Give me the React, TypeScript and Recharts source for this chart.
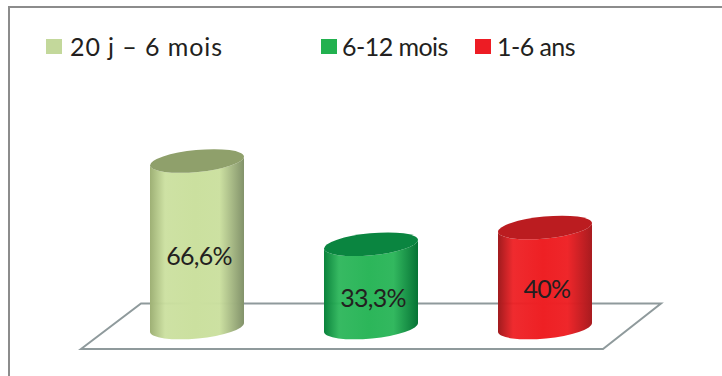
import { Bar, BarChart, LabelList, Legend, XAxis, YAxis } from "recharts";

const categories = ["20 j – 6 mois", "6-12 mois", "1-6 ans"];
const percentages = [66.6, 33.3, 40];

const data = categories.map((name, i) => ({ name, value: percentages[i] }));

const FONT = "Lato, 'Open Sans', sans-serif";
const INK = "#231f20";

const palette = [
  { swatch: "#c3d89b", edgeL: "#9eb075", mid: "#cbe09f", edgeR: "#82926a", top: "#8fa06b" },
  { swatch: "#22b14f", edgeL: "#0b823c", mid: "#2cb65a", edgeR: "#067335", top: "#0a8540" },
  { swatch: "#ed1c24", edgeL: "#a01b1e", mid: "#ee2024", edgeR: "#a81b1f", top: "#bb1c20" },
];

const legendLayout = [
  { box: 46, text: 70 },
  { box: 321, text: 342 },
  { box: 475, text: 497 },
];

function Cylinder({ x, y, width, height, index }: any) {
  const c = palette[index];
  const rx = width / 2 + 0.2;
  const ry = 11;
  const tilt = 4.5;
  const right = x + width;
  const bottom = y + height;
  const rot = -5.5;
  const body =
    `M${x} ${y + tilt} L${x} ${bottom + tilt} ` +
    `A${rx} ${ry} ${rot} 0 0 ${right} ${bottom - tilt} ` +
    `L${right} ${y - tilt} ` +
    `A${rx} ${ry} ${rot} 0 1 ${x} ${y + tilt} Z`;
  const cap =
    `M${x} ${y + tilt} A${rx} ${ry} ${rot} 0 1 ${right} ${y - tilt} ` +
    `A${rx} ${ry} ${rot} 0 1 ${x} ${y + tilt} Z`;
  return (
    <g>
      <path d={body} fill={`url(#cyl${index})`} />
      <path d={cap} fill={c.top} />
    </g>
  );
}

function LegendRow() {
  return (
    <div style={{ position: "absolute", left: 0, top: 0, width: 0, height: 0 }}>
      {categories.map((name, i) => (
        <div key={name}>
          <span
            style={{
              position: "absolute",
              left: legendLayout[i].box,
              top: 39,
              width: 16,
              height: 15,
              background: palette[i].swatch,
            }}
          />
          <span
            style={{
              position: "absolute",
              left: legendLayout[i].text,
              top: 31,
              fontFamily: FONT,
              fontSize: 25,
              lineHeight: "30px",
              color: INK,
              whiteSpace: "pre",
              letterSpacing: i === 0 ? 0.9 : -0.55,
            }}
          >
            {name}
          </span>
        </div>
      ))}
    </div>
  );
}

export default function App() {
  return (
    <div
      style={{
        position: "absolute",
        left: 0,
        top: 0,
        width: 722,
        height: 376,
        overflow: "hidden",
        background: "#fff",
      }}
    >
      <div
        style={{
          position: "absolute",
          left: 8,
          top: 6,
          width: 714,
          height: 370,
          borderTop: "2px solid #8c8c8c",
          borderLeft: "2px solid #8c8c8c",
          boxSizing: "border-box",
        }}
      />
      <div style={{ position: "absolute", left: 0, top: 0 }}>
        <BarChart
          width={722}
          height={376}
          data={data}
          margin={{ top: 77.5, right: 90, bottom: 48.5, left: 110 }}
        >
          <defs>
            {palette.map((c, i) => (
              <linearGradient key={i} id={`cyl${i}`} x1="0" y1="0" x2="1" y2="0">
                <stop offset="0%" stopColor={c.edgeL} />
                <stop offset="16%" stopColor={c.mid} stopOpacity={0.95} />
                <stop offset="48%" stopColor={c.mid} />
                <stop offset="74%" stopColor={c.mid} stopOpacity={0.97} />
                <stop offset="100%" stopColor={c.edgeR} />
              </linearGradient>
            ))}
          </defs>
          {/* floor the cylinders stand on */}
          <polygon
            points="81,349 141,303.5 661,303.5 603,349"
            fill="none"
            stroke="#8f9a9c"
            strokeWidth={2}
          />
          <XAxis dataKey="name" hide />
          <YAxis hide domain={[0, 100]} />
          <Legend content={<LegendRow />} wrapperStyle={{ left: 0, top: 0, width: 0, height: 0 }} />
          <Bar dataKey="value" barSize={94} shape={<Cylinder />} isAnimationActive={false}>
            <LabelList
              dataKey="value"
              position="center"
              dx={2}
              dy={12}
              formatter={(v: any) => `${String(v).replace(".", ",")}%`}
              style={{ fontFamily: FONT, fontSize: 25, fill: INK, letterSpacing: -0.7 }}
            />
          </Bar>
        </BarChart>
      </div>
    </div>
  );
}
